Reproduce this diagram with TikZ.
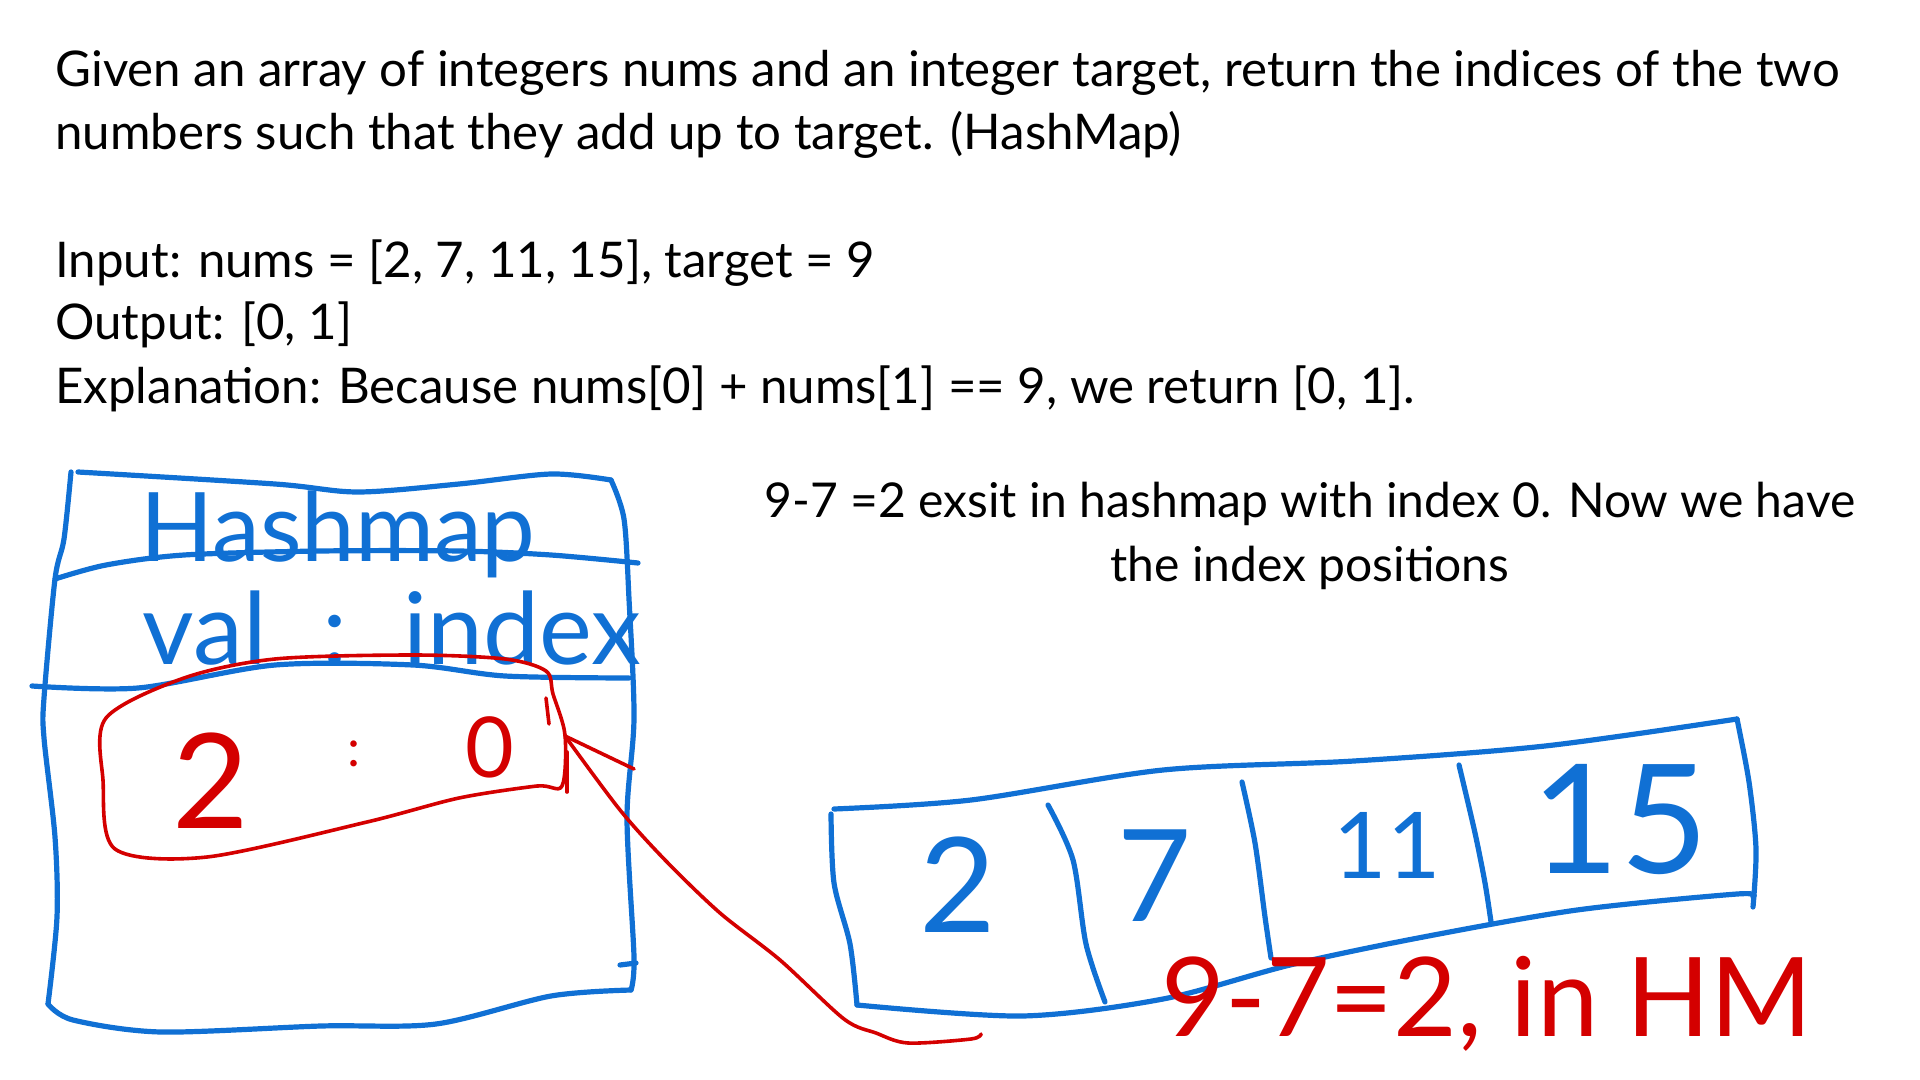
\documentclass[tikz,border=0pt]{standalone}
\usepackage{fontspec}
\setmainfont{Lato}
\usetikzlibrary{positioning, arrows.meta, calc}

\definecolor{penblue}{RGB}{16,112,212}
\definecolor{penred}{RGB}{212,0,0}
\tikzset{
  bluepen/.style={draw=penblue, line width=2.6pt, line cap=round, line join=round},
  redpen/.style={draw=penred, line width=1.8pt, line cap=round, line join=round},
  printed/.style={anchor=west, inner sep=0pt, font=\fontsize{24.6}{32}\selectfont},
  bluehand/.style={text=penblue, inner sep=0pt},
  redhand/.style={text=penred, inner sep=0pt},
}

\begin{document}
\begin{tikzpicture}[x=0.5pt, y=-0.5pt]
  \useasboundingbox (0,0) rectangle (1920,1080);

  % Problem text
  \node[printed] (given) at (55,73) {Given an array of integers nums and an integer target, return the indices of the two};
  \node[printed] (given2) at (55,135) {numbers such that they add up to target. (HashMap)};
  \node[printed] (input) at (55,263) {Input: nums = [2, 7, 11, 15], target = 9};
  \node[printed] (output) at (55,325) {Output: [0, 1]};
  \node[printed] (expl) at (55,389) {Explanation: Because nums[0] + nums[1] == 9, we return [0, 1].};
  \node[printed, anchor=center, align=center, font=\fontsize{24}{32}\selectfont] (note) at (1310,536)
    {9-7 =2 exsit in hashmap with index 0. Now we have\\the index positions};

  % Hashmap box
  \draw[bluepen] plot[smooth] coordinates {(78,472) (275,484) (358,492) (459,484) (551,474) (611,480)};
  \draw[bluepen] plot[smooth] coordinates {(611,480) (624,519) (629,599) (634,718) (627,818) (634,957) (631,990)};
  \draw[bluepen] plot[smooth] coordinates {(48,1004) (73,1020) (161,1032) (321,1026) (436,1024) (551,996) (631,990)};
  \draw[bluepen] plot[smooth] coordinates {(71,472) (64,539) (55,579) (44,698) (44,738) (55,837) (57,917) (48,1004)};
  \draw[bluepen] (620,965) -- (636,963);
  \draw[bluepen] plot[smooth] coordinates {(55,579) (106,565) (184,555) (321,551) (459,551) (551,555) (638,563)};
  \draw[bluepen] plot[smooth] coordinates {(32,686) (138,688) (275,665) (413,665) (505,676) (629,678)};
  \node[bluehand, font=\fontsize{48}{48}\selectfont] (hm) at (338,534) {Hashmap};
  \node[bluehand, font=\fontsize{50}{50}\selectfont] (valindex) at (392,628) {val\hspace{28pt}:\hspace{28pt}index};

  % Entry 2 : 0
  \draw[redpen] plot[smooth cycle] coordinates {(106,718) (184,678) (275,659) (413,655) (505,659) (546,671) (553,694)
    (565,735) (562,786) (537,786) (459,798) (367,822) (207,857) (115,849) (103,780)};
  \draw[redpen] (546,698) -- (549,724);
  \draw[redpen] (567,752) -- (567,792);
  \node[redhand, font=\fontsize{66}{66}\selectfont] (two) at (211,781) {2};
  \node[redhand, font=\fontsize{26}{26}\selectfont] (colon) at (354,754) {:};
  \node[redhand, font=\fontsize{42}{42}\selectfont] (zero) at (490,747) {0};

  % Array
  \draw[bluepen] plot[smooth] coordinates {(834,809) (971,800) (1163,770) (1354,761) (1545,746) (1737,719)};
  \draw[bluepen] plot[smooth] coordinates {(1737,719) (1749,782) (1756,849) (1753,907)};
  \draw[bluepen] plot[smooth] coordinates {(857,1005) (1022,1016) (1163,999) (1290,965) (1418,938) (1577,910) (1737,894) (1753,897)};
  \draw[bluepen] plot[smooth] coordinates {(831,814) (834,883) (850,944) (857,1005)};
  \draw[bluepen] plot[smooth] coordinates {(1048,805) (1073,860) (1086,944) (1105,1002)};
  \draw[bluepen] plot[smooth] coordinates {(1242,782) (1255,843) (1265,917) (1271,958)};
  \draw[bluepen] plot[smooth] coordinates {(1459,765) (1475,833) (1485,883) (1491,922)};
  \node[bluehand, font=\fontsize{66}{66}\selectfont] (a0) at (958,885) {2};
  \node[bluehand, font=\fontsize{64}{64}\selectfont] (a1) at (1155,876) {7};
  \node[bluehand, font=\fontsize{46}{46}\selectfont] (a2) at (1387,845) {11};
  \node[bluehand, font=\fontsize{76}{76}\selectfont] (a3) at (1620,820) {15};

  % Lookup
  \node[redhand, font=\fontsize{55}{55}\selectfont] (check) at (1487,1004) {9-7=2, in HM};
  \coordinate (tip) at (565,736);
  \draw[redpen] (tip) -- ++(69,33);
  \draw[redpen] plot[smooth] coordinates {(tip) (620,810) (666,861) (720,913) (780,960) (844,1019) (876,1033) (908,1043) (971,1039) (981,1034)};
\end{tikzpicture}
\end{document}
